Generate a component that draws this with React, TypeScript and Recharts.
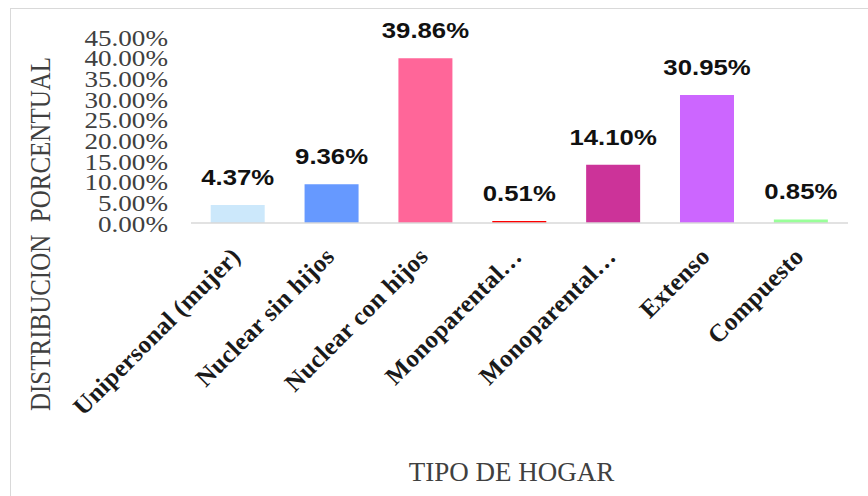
import React from 'react';
import { BarChart, Bar, XAxis, YAxis, Cell, LabelList, Label } from 'recharts';

const categories = [
  'Unipersonal (mujer)',
  'Nuclear sin hijos',
  'Nuclear con hijos',
  'Monoparental…',
  'Monoparental…',
  'Extenso',
  'Compuesto',
];
const values = [4.37, 9.36, 39.86, 0.51, 14.1, 30.95, 0.85];
const colors = ['#cce8fb', '#6699ff', '#ff6699', '#ff0000', '#cc3399', '#cc66ff', '#99ff99'];
const yTicks = [0, 5, 10, 15, 20, 25, 30, 35, 40, 45];
const yTitle = 'DISTRIBUCION  PORCENTUAL';
const xTitle = 'TIPO DE HOGAR';

const data = categories.map((name, i) => ({ name, value: values[i] }));

const SERIF = '"Liberation Serif", "Times New Roman", serif';
const SANS = '"Liberation Sans", Arial, sans-serif';

const YTick = (props: any) => {
  const { x, y, payload } = props;
  return (
    <text
      transform={`translate(${x},${y}) scale(1.13,1)`}
      x={0}
      y={0}
      dy={8.5}
      textAnchor="end"
      fontFamily={SERIF}
      fontSize={24}
      fill="#404040"
    >
      {Number(payload.value).toFixed(2) + '%'}
    </text>
  );
};

const XTick = (props: any) => {
  const { x, y, payload } = props;
  return (
    <text
      transform={`translate(${x + 4},${y + 35}) rotate(-45)`}
      x={0}
      y={0}
      textAnchor="end"
      fontFamily={SERIF}
      fontWeight="bold"
      fontSize={25}
      letterSpacing={0.3}
      fill="#1a1a1a"
    >
      {payload.value}
    </text>
  );
};

const ValueLabel = (props: any) => {
  const { x, y, width, value } = props;
  return (
    <text
      transform={`translate(${x + width / 2},${y - 20}) scale(1.17,1)`}
      x={0}
      y={0}
      textAnchor="middle"
      fontFamily={SANS}
      fontWeight="bold"
      fontSize={22}
      fill="#111111"
    >
      {Number(value).toFixed(2) + '%'}
    </text>
  );
};

const YTitle = (props: any) => {
  const vb = props.viewBox || { x: 0, y: 0, width: 0, height: 0 };
  return (
    <text
      transform={`translate(${vb.x + 50},${vb.y + vb.height / 2 + 104}) scale(1.2,1) rotate(-90)`}
      x={0}
      y={0}
      textAnchor="middle"
      fontFamily={SERIF}
      fontSize={25}
      fill="#404040"
      style={{ whiteSpace: 'pre' }}
    >
      {yTitle}
    </text>
  );
};

const XTitle = (props: any) => {
  const vb = props.viewBox || { x: 0, y: 0, width: 0, height: 0 };
  return (
    <text
      x={vb.x + vb.width / 2 - 8}
      y={vb.y + 258}
      textAnchor="middle"
      fontFamily={SERIF}
      fontSize={27}
      fill="#404040"
    >
      {xTitle}
    </text>
  );
};

export default function App() {
  return (
    <div style={{ position: 'fixed', left: 0, top: 0, width: 868, height: 496, overflow: 'hidden', background: '#fff' }}>
      <div
        style={{
          position: 'absolute',
          left: 10,
          top: 8,
          width: 900,
          height: 600,
          border: '1px solid #d9d9d9',
          boxSizing: 'border-box',
        }}
      />
      <div style={{ position: 'absolute', left: 0, top: 0 }}>
        <BarChart
          width={868}
          height={496}
          data={data}
          margin={{ top: 37, right: 20, bottom: 0, left: 0 }}
          barCategoryGap="21%"
        >
          <XAxis
            dataKey="name"
            interval={0}
            tickLine={false}
            tickSize={0}
            tickMargin={0}
            axisLine={{ stroke: '#d9d9d9', strokeWidth: 1.5 }}
            height={273}
            tick={<XTick />}
          >
            <Label content={<XTitle />} />
          </XAxis>
          <YAxis
            type="number"
            domain={[0, 45]}
            ticks={yTicks}
            interval={0}
            axisLine={false}
            tickLine={false}
            tickSize={0}
            tickMargin={23}
            width={191}
            tick={<YTick />}
          >
            <Label content={<YTitle />} />
          </YAxis>
          <Bar dataKey="value" isAnimationActive={false}>
            {data.map((d, i) => (
              <Cell key={i} fill={colors[i]} />
            ))}
            <LabelList dataKey="value" content={<ValueLabel />} />
          </Bar>
        </BarChart>
      </div>
    </div>
  );
}
